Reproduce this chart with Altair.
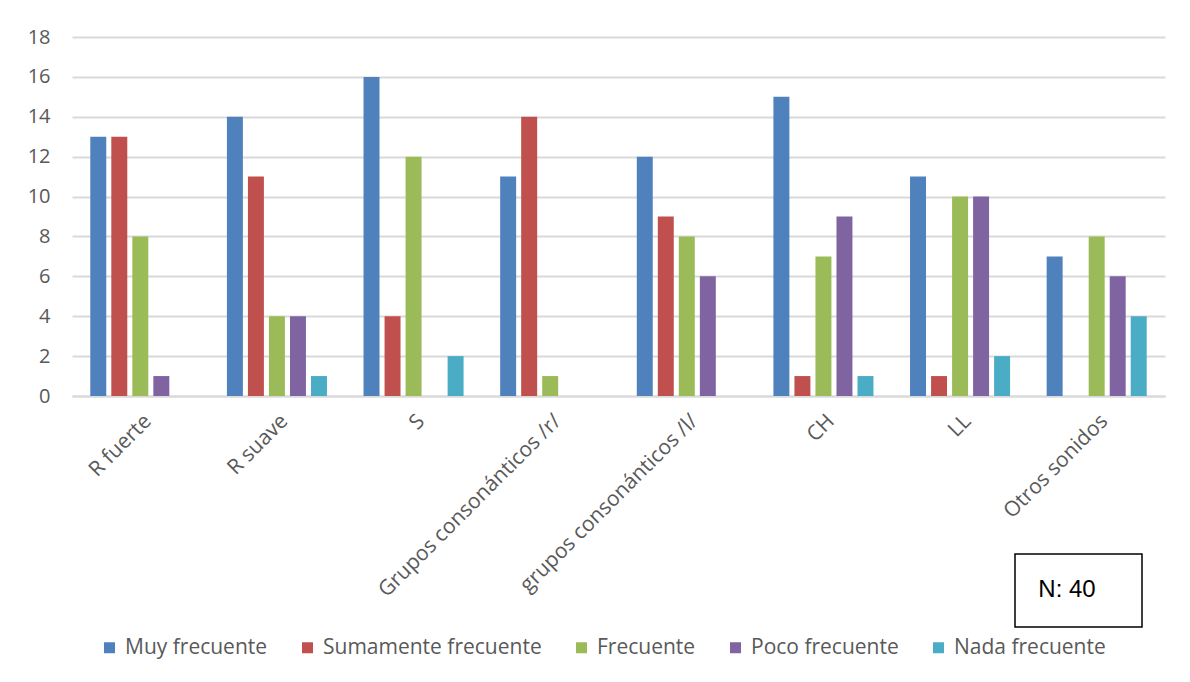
import altair as alt
import pandas as pd

categories = ["R fuerte", "R suave", "S", "Grupos consonánticos /r/",
              "grupos consonánticos /l/", "CH", "LL", "Otros sonidos"]
series = ["Muy frecuente", "Sumamente frecuente", "Frecuente", "Poco frecuente", "Nada frecuente"]
muy = [13, 14, 16, 11, 12, 15, 11, 7]
sumamente = [13, 11, 4, 14, 9, 1, 1, 0]
frecuente = [8, 4, 12, 1, 8, 7, 10, 8]
poco = [1, 4, 0, 0, 6, 9, 10, 6]
nada = [0, 1, 2, 0, 0, 1, 2, 4]
colors = ["#4F81BD", "#C0504D", "#9BBB59", "#8064A2", "#4BACC6"]

rows = []
for s, vals in zip(series, [muy, sumamente, frecuente, poco, nada]):
    for c, v in zip(categories, vals):
        rows.append({"Sonido": c, "Serie": s, "Valor": v})
df = pd.DataFrame(rows)

FONT = "Open Sans"
TXT = "#595959"

bars = alt.Chart(df).mark_bar().encode(
    x=alt.X("Sonido:N", sort=categories, title=None,
            scale=alt.Scale(paddingInner=0, paddingOuter=0),
            axis=alt.Axis(labelAngle=-45, labelFontSize=21, labelColor=TXT, labelFont=FONT,
                          ticks=False, domainColor="#D9D9D9", domainWidth=2, labelPadding=14,
                          labelLimit=400)),
    xOffset=alt.XOffset("Serie:N", sort=series,
                        scale=alt.Scale(paddingInner=0.24, paddingOuter=0.87)),
    y=alt.Y("Valor:Q", title=None,
            scale=alt.Scale(domain=[0, 18], nice=False),
            axis=alt.Axis(values=list(range(0, 19, 2)), labelFontSize=20, labelColor=TXT,
                          labelFont=FONT, ticks=False, domain=False, gridColor="#D9D9D9",
                          gridWidth=2, labelPadding=22)),
    color=alt.Color("Serie:N", sort=series,
                    scale=alt.Scale(domain=series, range=colors),
                    legend=alt.Legend(title=None, orient="none", direction="horizontal",
                                      legendX=27, legendY=600, padding=0,
                                      symbolType="square", symbolSize=121, symbolStrokeWidth=0,
                                      labelFontSize=21, labelColor=TXT, labelFont=FONT,
                                      labelOffset=5, labelLimit=400,
                                      columnPadding=29, symbolOffset=0)),
)

box_df = pd.DataFrame({"t": ["N: 40"]})
box = alt.Chart(box_df).mark_rect(fill="white", stroke="#000000", strokeWidth=1.5).encode(
    x=alt.value(943), x2=alt.value(1070), y=alt.value(517), y2=alt.value(590)
)
box_text = alt.Chart(box_df).mark_text(fontSize=24, font="Liberation Sans", color="#000000",
                                       align="center", baseline="middle").encode(
    x=alt.value(995), y=alt.value(553), text="t:N"
)

chart = alt.layer(bars, box, box_text).properties(
    width=1093, height=359,
    padding={"left": 19, "top": 19, "right": 10, "bottom": 10},
    background="white",
).configure_view(stroke=None)

chart.save("out.html", embed_options={"renderer": "svg", "actions": False})
